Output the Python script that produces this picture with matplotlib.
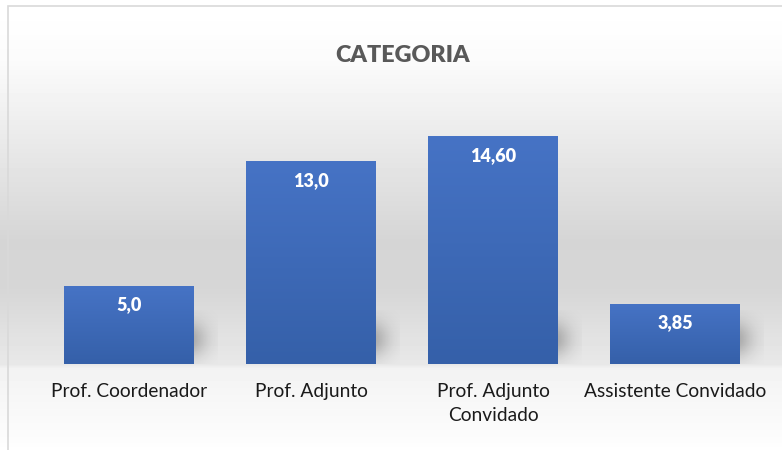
import numpy as np
import matplotlib
matplotlib.use("Agg")
import matplotlib.pyplot as plt
from matplotlib.colors import LinearSegmentedColormap
from matplotlib.patches import Rectangle

# ---- data ----
categories = ["Prof. Coordenador", "Prof. Adjunto", "Prof. Adjunto\nConvidado", "Assistente Convidado"]
values = [5.0, 13.0, 14.60, 3.85]
value_labels = ["5,0", "13,0", "14,60", "3,85"]
title = "CATEGORIA"

plt.rcParams['font.family'] = ['Lato', 'DejaVu Sans']

W, H = 782, 450
fig = plt.figure(figsize=(W / 100, H / 100), dpi=100)

# ---- background gradient (figure level) ----
bg = fig.add_axes([0, 0, 1, 1], zorder=-10)
bg.set_axis_off()
stops_y = [0, 6, 60, 130, 240, 290, 340, 364, 368, 440, 450]
stops_v = [1.0, 1.0, 0.985, 0.925, 0.835, 0.84, 0.89, 0.91, 0.95, 0.99, 1.0]
yy = np.arange(H)
col = np.interp(yy, stops_y, stops_v)
img = np.repeat(col[:, None], 4, axis=1)
bg.imshow(img, cmap="gray", vmin=0, vmax=1, aspect="auto", extent=(0, 1, 0, 1), origin="upper")
bg.set_xlim(0, 1)
bg.set_ylim(0, 1)
# chart border (left/top visible)
bg.add_patch(Rectangle((8 / W, -0.1), 1.2, (H - 6) / H + 0.1, fill=False,
                       edgecolor="#d9d9d9", linewidth=1.2, transform=bg.transAxes))

# ---- title ----
fig.text(403 / W, 1 - 55 / H, title, ha="center", va="center", fontsize=16.8,
         fontweight="heavy", color="#595959")

# ---- bars ----
ax = fig.add_axes([38 / W, 86 / H, 728 / W, 249.6 / H])
ax.set_xlim(-0.5, 3.5)
ax.set_ylim(0, 16)
ax.patch.set_alpha(0)
for s in ax.spines.values():
    s.set_visible(False)

x = np.arange(len(values))
width = 0.71

# soft shadows to the lower right of each bar
gy, gx = np.mgrid[-1:1:60j, -1:1:60j]
blob = np.exp(-(gx ** 2 + gy ** 2) * 2.5)
shadow_rgba = np.zeros((60, 60, 4))
shadow_rgba[..., 3] = blob * 0.28
for xi, v in zip(x, values):
    ax.imshow(shadow_rgba, extent=(xi + width / 2 - 0.22, xi + width / 2 + 0.13, -0.3, min(v, 3.4)),
              aspect="auto", zorder=1, interpolation="bilinear")

bars = ax.bar(x, values, width=width, color="none", zorder=2)
cmap = LinearSegmentedColormap.from_list("bar", ["#3560a9", "#4673c5"])
grad = np.linspace(0, 1, 100)[:, None]
for b in bars:
    x0, y0 = b.get_x(), b.get_y()
    im = ax.imshow(grad, cmap=cmap, origin="lower", aspect="auto",
                   extent=(x0, x0 + b.get_width(), y0, y0 + b.get_height()), zorder=3)
    im.set_clip_path(b)
ax.set_xlim(-0.5, 3.5)
ax.set_ylim(0, 16)

for xi, v, lab in zip(x, values, value_labels):
    ax.annotate(lab, (xi, v), xytext=(0, -13.7), textcoords="offset points",
                ha="center", va="center", color="white", fontsize=13, fontweight="heavy", zorder=5)

ax.set_yticks([])
ax.set_xticks(x)
ax.set_xticklabels(categories, fontsize=13.8, color="#1a1a1a", linespacing=1.5)
ax.tick_params(axis="x", length=0, pad=14)

fig.savefig("out.png", dpi=100)
